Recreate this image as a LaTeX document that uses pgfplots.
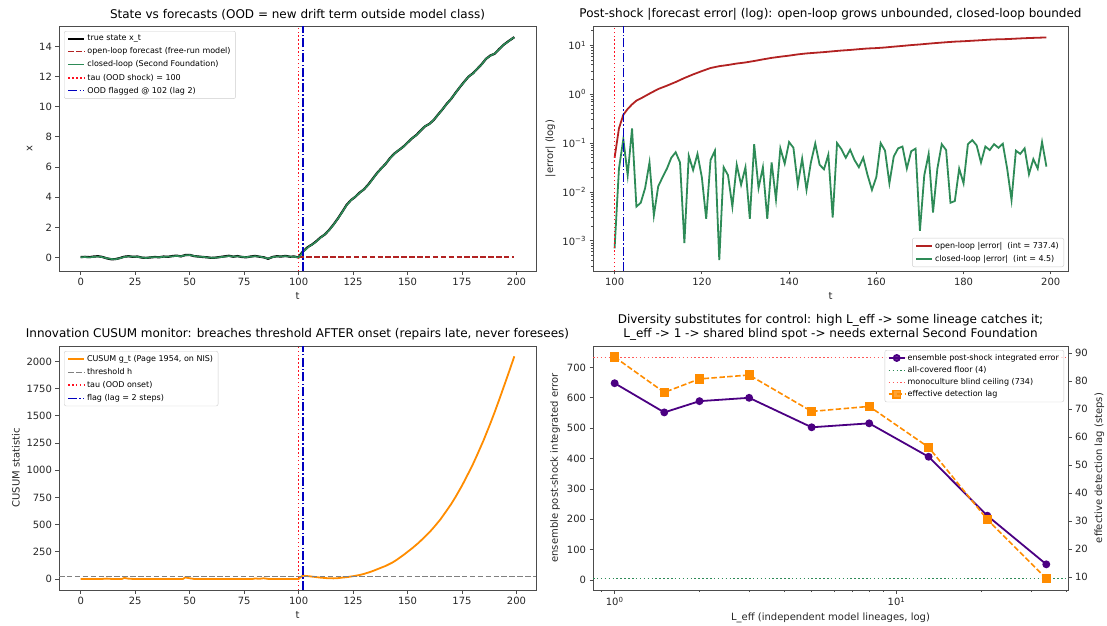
\documentclass[border=0pt]{standalone}
\usepackage{fontspec}
\setmainfont{DejaVu Sans}
\usepackage{pgfplots}
\pgfplotsset{compat=1.18}
\usepackage{pgfplotstable}

\definecolor{firebrick}{HTML}{B22222}
\definecolor{seagreen}{HTML}{2E8B57}
\definecolor{darkorange}{HTML}{FF8C00}
\definecolor{indigo}{HTML}{4B0082}
\definecolor{flagblue}{HTML}{0000C0}
\definecolor{taured}{HTML}{FF1020}
\definecolor{mplgray}{HTML}{808080}

\pgfplotsset{
  mpl/.style={
    scale only axis,
    enlargelimits=false,
    axis line style={black!70, line width=0.8pt},
    tick style={black!70, line width=0.8pt},
    tick align=outside,
    xtick pos=left, ytick pos=left,
    major tick length=3.5pt,
    minor tick length=2pt,
    ticklabel style={font=\fontsize{10}{12}\selectfont, text=black!85},
    /pgf/number format/assume math mode=true,
    /pgf/number format/1000 sep={},
    label style={font=\fontsize{10}{12}\selectfont, text=black!85},
    title style={font=\fontsize{12}{14.4}\selectfont, yshift=-4pt},
    legend style={font=\fontsize{8}{9.6}\selectfont, draw=black!20,
      rounded corners=2pt, fill=white, fill opacity=0.8, text opacity=1,
      inner xsep=3pt, inner ysep=2pt, row sep=1.5pt},
    legend cell align=left,
    legend image code/.code={\draw[mark repeat=2,mark phase=2,#1]
      plot coordinates {(0pt,0pt) (8pt,0pt) (16pt,0pt)};},
  },
  mpldashed/.style={dash pattern=on 5.5pt off 2.4pt},
  mpldotted/.style={dash pattern=on 1.5pt off 2.4pt},
  mpldashdot/.style={dash pattern=on 9pt off 2.2pt on 1.5pt off 2.2pt},
  taustyle/.style={taured, line width=1.5pt, mpldotted},
  flagstyle/.style={flagblue, line width=1.3pt, mpldashdot},
}

% state and closed-loop estimate
\pgfplotstableread{
t x cl
0 0.03 0.01
2 0.04 0.03
4 0.02 0.00
6 0.06 0.04
8 0.08 0.06
10 0.03 0.02
12 -0.06 -0.05
14 -0.12 -0.10
16 -0.11 -0.12
18 -0.04 -0.05
20 0.05 0.03
22 0.08 0.07
24 0.04 0.05
26 0.06 0.04
28 -0.01 0.00
30 -0.03 -0.04
32 0.00 0.01
34 0.03 0.02
36 0.01 0.02
38 0.06 0.04
40 0.04 0.05
42 0.09 0.07
44 0.12 0.10
46 0.07 0.08
48 0.16 0.14
50 0.17 0.16
52 0.09 0.10
54 0.06 0.05
56 0.03 0.04
58 0.01 0.00
60 -0.03 -0.02
62 -0.01 -0.02
64 0.03 0.02
66 0.07 0.05
68 0.11 0.09
70 0.05 0.06
72 0.09 0.07
74 0.03 0.04
76 0.01 0.02
78 0.06 0.05
80 0.10 0.08
82 0.05 0.06
84 0.01 0.00
86 -0.09 -0.07
88 0.03 0.02
90 0.08 0.06
92 0.06 0.07
94 0.10 0.08
96 0.05 0.06
98 0.06 0.04
100 0.00 0.00
101 0.22 0.18
102 0.40 0.36
103 0.52 0.50
104 0.66 0.63
105 0.76 0.75
106 0.84 0.83
108 1.06 1.04
110 1.32 1.30
112 1.52 1.53
114 1.82 1.80
116 2.18 2.16
118 2.58 2.57
120 3.02 3.00
122 3.48 3.46
124 3.80 3.79
126 4.02 4.03
128 4.30 4.28
130 4.52 4.53
132 4.84 4.82
134 5.22 5.20
136 5.60 5.59
138 5.92 5.90
140 6.22 6.23
142 6.60 6.58
144 6.90 6.89
146 7.12 7.13
148 7.34 7.32
150 7.62 7.61
152 7.90 7.91
154 8.12 8.10
156 8.42 8.41
158 8.70 8.71
160 8.86 8.84
162 9.12 9.13
164 9.48 9.46
166 9.82 9.83
168 10.20 10.18
170 10.52 10.53
172 10.92 10.90
174 11.30 11.31
176 11.66 11.64
178 12.00 12.01
180 12.22 12.20
182 12.52 12.53
184 12.82 12.80
186 13.18 13.19
188 13.40 13.38
190 13.52 13.54
192 13.82 13.80
194 14.10 14.11
196 14.32 14.30
198 14.52 14.53
199 14.62 14.60
}\state

% post-shock open-loop |error|
\pgfplotstableread{
t e
100 0.05
101 0.20
102 0.38
103 0.50
104 0.62
105 0.74
106 0.82
108 1.03
110 1.28
112 1.50
114 1.78
116 2.15
118 2.55
120 2.98
122 3.45
124 3.76
126 3.98
128 4.26
130 4.48
132 4.80
134 5.18
136 5.56
138 5.88
140 6.18
142 6.56
144 6.86
146 7.08
148 7.30
150 7.58
152 7.86
154 8.08
156 8.38
158 8.66
160 8.82
162 9.08
164 9.44
166 9.78
168 10.16
170 10.48
172 10.88
174 11.26
176 11.62
178 11.96
180 12.18
182 12.48
184 12.78
186 13.14
188 13.36
190 13.48
192 13.78
194 14.06
196 14.28
198 14.48
199 14.58
}\olerr

% post-shock closed-loop |error|
\pgfplotstableread{
t e
100 0.0007
101 0.03
102 0.12
103 0.022
104 0.2
105 0.005
106 0.006
107 0.012
108 0.04
109 0.0033
110 0.013
111 0.02
112 0.03
113 0.05
114 0.065
115 0.04
116 0.0009
117 0.055
118 0.028
119 0.06
120 0.02
121 0.0028
122 0.045
123 0.07
124 0.0004
125 0.032
126 0.022
127 0.005
128 0.036
129 0.014
130 0.032
131 0.0028
132 0.095
133 0.012
134 0.032
135 0.0028
136 0.04
137 0.007
138 0.078
139 0.038
140 0.105
141 0.08
142 0.014
143 0.048
144 0.011
145 0.04
146 0.098
147 0.036
148 0.029
149 0.058
150 0.003
151 0.1
152 0.075
153 0.05
154 0.073
155 0.045
156 0.032
157 0.05
158 0.022
159 0.011
160 0.02
161 0.1
162 0.07
163 0.015
164 0.053
165 0.078
166 0.085
167 0.03
168 0.068
169 0.077
170 0.0016
171 0.022
172 0.06
173 0.0038
174 0.03
175 0.095
176 0.072
177 0.006
178 0.0065
179 0.03
180 0.015
181 0.095
182 0.115
183 0.09
184 0.04
185 0.085
186 0.072
187 0.095
188 0.08
189 0.097
190 0.03
191 0.0068
192 0.07
193 0.06
194 0.078
195 0.023
196 0.047
197 0.03
198 0.105
199 0.033
}\clerr

% CUSUM statistic
\pgfplotstableread{
t g
0 0
10 0
12 3
14 0
19 0
20 9
22 2
24 0
47 0
48 14
50 6
52 0
79 0
80 4
82 1
84 6
86 0
100 0
101 18
102 30
103 28
105 24
108 17
110 12
113 7
116 5
118 7
120 12
122 16
125 25
128 36
130 46
133 65
135 80
138 104
140 120
143 150
145 175
148 218
150 249
152 280
155 331
158 388
160 428
162 473
165 545
168 630
170 688
172 753
175 858
178 975
180 1055
182 1143
185 1280
188 1430
190 1535
192 1645
195 1815
197 1930
199 2047
}\cusum

% diversity sweep
\pgfplotstableread{
L err lag
1 648 88.6
1.5 552 76.0
2 589 80.8
3 600 82.2
5 503 69.2
8 516 71.0
13 406 56.4
21 212 30.6
34 52 9.5
}\diversity

\begin{document}
\begin{tikzpicture}
\useasboundingbox (0,0) rectangle (1107pt,625pt);

% ---- top left
\begin{axis}[mpl, at={(59pt,354pt)}, anchor=south west,
  width=477pt, height=245pt,
  xmin=-9.95, xmax=208.95, ymin=-0.9, ymax=15.36,
  xtick={0,25,...,200}, ytick={0,2,...,14},
  xlabel={t}, ylabel={x},
  title={State vs forecasts (OOD = new drift term outside model class)},
  legend style={at={(0,1)}, anchor=north west, xshift=5pt, yshift=-5pt}]
\addplot[black, line width=2.2pt] table[x=t, y=x] {\state};
\addlegendentry{true state x\_t}
\addplot[firebrick, line width=1.6pt, mpldashed] coordinates {(100,0.03) (199,0.03)};
\addlegendentry{open-loop forecast (free-run model)}
\addplot[seagreen, line width=1.6pt] table[x=t, y=cl] {\state};
\addlegendentry{closed-loop (Second Foundation)}
\addplot[taustyle] coordinates {(100,-0.9) (100,15.36)};
\addlegendentry{tau (OOD shock) = 100}
\addplot[flagstyle] coordinates {(102,-0.9) (102,15.36)};
\addlegendentry{OOD flagged @ 102 (lag 2)}
\end{axis}

% ---- top right
\begin{axis}[mpl, at={(593pt,354pt)}, anchor=south west,
  width=475pt, height=245pt, ymode=log,
  xmin=95.05, xmax=203.95, ymin=2.4e-4, ymax=25,
  xtick={100,120,...,200},
  ytick={1e-3,1e-2,1e-1,1,10},
  yticklabels={10\textsuperscript{−3},10\textsuperscript{−2},10\textsuperscript{−1},10\textsuperscript{0},10\textsuperscript{1}},
  minor ytick={3e-4,4e-4,5e-4,6e-4,7e-4,8e-4,9e-4,2e-3,3e-3,4e-3,5e-3,6e-3,7e-3,8e-3,9e-3,
    0.02,0.03,0.04,0.05,0.06,0.07,0.08,0.09,0.2,0.3,0.4,0.5,0.6,0.7,0.8,0.9,2,3,4,5,6,7,8,9,20},
  xlabel={t}, ylabel={|error| (log)},
  title={Post-shock |forecast error| (log): open-loop grows unbounded, closed-loop bounded},
  legend style={at={(1,0)}, anchor=south east, xshift=-4pt, yshift=4pt}]
\addplot[firebrick, line width=1.8pt] table[x=t, y=e] {\olerr};
\addlegendentry{open-loop |error|\ \ (int = 737.4)}
\addplot[seagreen, line width=1.8pt] table[x=t, y=e] {\clerr};
\addlegendentry{closed-loop |error|\ \ (int = 4.5)}
\addplot[taustyle, forget plot] coordinates {(100,2.4e-4) (100,25)};
\addplot[flagstyle, forget plot] coordinates {(102,2.4e-4) (102,25)};
\end{axis}

% ---- bottom left
\begin{axis}[mpl, at={(59pt,35pt)}, anchor=south west,
  width=477pt, height=244pt,
  xmin=-9.95, xmax=208.95, ymin=-102, ymax=2142,
  xtick={0,25,...,200}, ytick={0,250,...,2000},
  xlabel={t}, ylabel={CUSUM statistic},
  title={Innovation CUSUM monitor: breaches threshold AFTER onset (repairs late, never foresees)},
  legend style={at={(0,1)}, anchor=north west, xshift=5pt, yshift=-5pt}]
\addplot[darkorange, line width=1.8pt] table[x=t, y=g] {\cusum};
\addlegendentry{CUSUM g\_t (Page 1954, on NIS)}
\addplot[mplgray, line width=1pt, mpldashed] coordinates {(-9.95,25) (208.95,25)};
\addlegendentry{threshold h}
\addplot[taustyle] coordinates {(100,-102) (100,2142)};
\addlegendentry{tau (OOD onset)}
\addplot[flagstyle] coordinates {(102,-102) (102,2142)};
\addlegendentry{flag (lag = 2 steps)}
\end{axis}

% ---- bottom right, left axis
\begin{axis}[mpl, at={(593pt,35pt)}, anchor=south west,
  width=475pt, height=244pt, xmode=log,
  xmin=0.838, xmax=40.6, ymin=-32.5, ymax=770.5,
  xtick={1,10}, xticklabels={10\textsuperscript{0},10\textsuperscript{1}},
  minor xtick={0.9,2,3,4,5,6,7,8,9,20,30,40},
  ytick={0,100,...,700},
  xlabel={L\_eff (independent model lineages, log)},
  ylabel={ensemble post-shock integrated error},
  title style={align=center},
  title={Diversity substitutes for control: high L\_eff -> some lineage catches it;\\L\_eff -> 1 -> shared blind spot -> needs external Second Foundation}]
\addplot[seagreen, line width=0.9pt, mpldotted] coordinates {(0.838,4) (40.6,4)};
\addplot[red!65, line width=0.9pt, mpldotted] coordinates {(0.838,734) (40.6,734)};
\addplot[indigo, line width=1.8pt, mark=*, mark size=3pt] table[x=L, y=err] {\diversity};
\end{axis}

% ---- bottom right, right axis
\begin{axis}[mpl, at={(593pt,35pt)}, anchor=south west,
  width=475pt, height=244pt, xmode=log,
  xmin=0.838, xmax=40.6, ymin=5.44, ymax=92.56,
  axis x line=none, axis y line*=right, ytick pos=right,
  ytick={10,20,...,90},
  ylabel={effective detection lag (steps)},
  legend style={at={(1,1)}, anchor=north east, xshift=-4pt, yshift=-4pt, row sep=0.5pt}]
\addlegendimage{indigo, line width=1.8pt, mark=*, mark size=3pt}
\addlegendentry{ensemble post-shock integrated error}
\addlegendimage{seagreen, line width=0.9pt, mpldotted}
\addlegendentry{all-covered floor (4)}
\addlegendimage{red!65, line width=0.9pt, mpldotted}
\addlegendentry{monoculture blind ceiling (734)}
\addplot[darkorange, line width=1.6pt, mpldashed, mark=square*, mark size=3.8pt,
  mark options={solid}] table[x=L, y=lag] {\diversity};
\addlegendentry{effective detection lag}
\end{axis}
\end{tikzpicture}
\end{document}
